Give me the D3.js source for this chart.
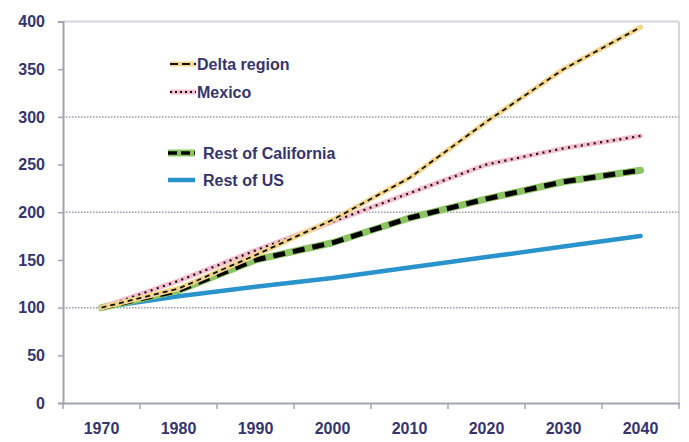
<!DOCTYPE html>
<html><head><meta charset="utf-8">
<script src="https://cdn.jsdelivr.net/npm/d3@7"></script>
<style>body{margin:0;background:#fff}svg{display:block}text{font-family:"Liberation Sans",Arial,sans-serif;font-weight:bold;fill:#35356b}</style>
</head><body><svg id="c" width="689" height="442"></svg>
<script>
const years = ["1970","1980","1990","2000","2010","2020","2030","2040"];
const deltaRegion = [100,120,155,192,236,295,350,394];
const mexico = [100,128,160,190,220,250,267,280];
const restOfCalifornia = [100,118,150,168,194,214,232,244];
const restOfUS = [100,112,122,131,142,153,164,175];
const yTicks = [0,50,100,150,200,250,300,350,400];
const gridValues = [100,200,300];

const W=689,H=442,L=63,R=679,T=21.5,B=403;
const svg=d3.select("#c");
const x=d3.scaleBand().domain(years).range([L,R]).padding(0);
const y=d3.scaleLinear().domain([0,400]).range([B,T]);
const cx=d=>x(d)+x.bandwidth()/2;

// border top/right
svg.append("line").attr("x1",L).attr("x2",R).attr("y1",y(400)).attr("y2",y(400)).attr("stroke","#d6d6de").attr("stroke-width",2);
svg.append("line").attr("x1",R).attr("x2",R).attr("y1",y(400)).attr("y2",B).attr("stroke","#d6d6de").attr("stroke-width",2);
// grid
svg.selectAll(".g").data(gridValues).enter().append("line")
 .attr("x1",L).attr("x2",R).attr("y1",d=>y(d)).attr("y2",d=>y(d))
 .attr("stroke","#9a9aae").attr("stroke-width",1.5).attr("stroke-dasharray","1.5,1.5");

// axes
const ya=svg.append("g").attr("transform",`translate(${L},0)`).call(d3.axisLeft(y).tickValues(yTicks).tickSize(5).tickPadding(13));
const xa=svg.append("g").attr("transform",`translate(0,${B})`).call(d3.axisBottom(x).tickSize(0).tickPadding(20));
[ya,xa].forEach(a=>{a.select(".domain").attr("stroke","#a4a4b4").attr("stroke-width",2);a.selectAll("line").attr("stroke","#a4a4b4").attr("stroke-width",1.5);a.selectAll("text").attr("font-size",16).style("fill","#35356b").attr("font-family","Liberation Sans, Arial, sans-serif").attr("font-weight","bold");});
// x tick marks at band boundaries
const bounds=years.map(d=>x(d)).concat([R]);
svg.selectAll(".xt").data(bounds).enter().append("line").attr("x1",d=>d).attr("x2",d=>d).attr("y1",B).attr("y2",B+6).attr("stroke","#a4a4b4").attr("stroke-width",1.5);

const line=d3.line().x((d,i)=>cx(years[i])).y(d=>y(d));
const series=[
 {name:"Delta region",data:deltaRegion,base:"#f3d68c",bw:5,ov:"#111",ow:1.8,dash:"5,4"},
 {name:"Mexico",data:mexico,base:"#f5bfd0",bw:5,ov:"#111",ow:2.2,dash:"2,4.5"},
 {name:"Rest of California",data:restOfCalifornia,base:"#8cc462",bw:7,ov:"#000",ow:5,dash:"12,8"},
 {name:"Rest of US",data:restOfUS,base:"#2b93cb",bw:4.5,ov:null}
];
const drawOrder=[3,2,1,0];
drawOrder.forEach(i=>{const s=series[i];
 svg.append("path").attr("d",line(s.data)).attr("fill","none").attr("stroke",s.base).attr("stroke-width",s.bw).attr("stroke-linejoin","round").attr("stroke-linecap","round");
 if(s.ov) svg.append("path").attr("d",line(s.data)).attr("fill","none").attr("stroke",s.ov).attr("stroke-width",s.ow).attr("stroke-dasharray",s.dash);
});

// legend
const leg=[{s:0,y:64},{s:1,y:92},{s:2,y:153},{s:3,y:180}];
leg.forEach((l,k)=>{const s=series[l.s];const x0=k<2?170:168,x1=k<2?196:195;
 svg.append("line").attr("x1",x0).attr("x2",x1).attr("y1",l.y).attr("y2",l.y).attr("stroke",s.base).attr("stroke-width",s.bw);
 if(s.ov) svg.append("line").attr("x1",x0).attr("x2",x1).attr("y1",l.y).attr("y2",l.y).attr("stroke",s.ov).attr("stroke-width",Math.min(s.ow,3.5)).attr("stroke-dasharray",k==0?"8,4":k==1?"2,3":"9,4");
 svg.append("text").attr("x",k<2?197:203).attr("y",l.y+5.5).attr("font-size",16).text(s.name);
});
</script></body></html>
